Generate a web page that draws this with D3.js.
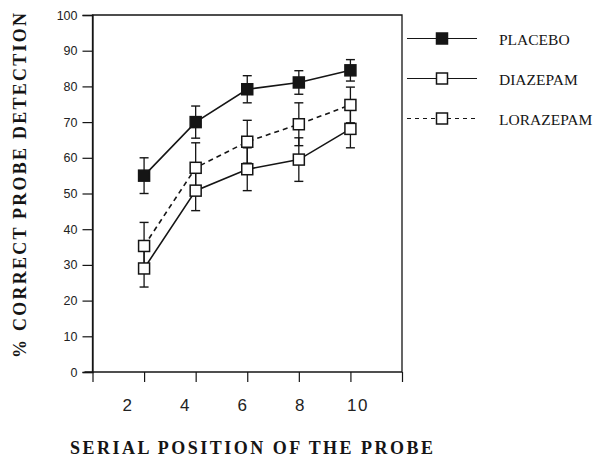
<!DOCTYPE html>
<html>
<head>
<meta charset="utf-8">
<script src="https://cdn.jsdelivr.net/npm/d3@7"></script>
<style>
  body { margin: 0; background: #fff; }
  svg { display: block; }
</style>
</head>
<body>
<svg id="chart" width="600" height="464"></svg>
<script>
// serial position of the probe
var positions = [2, 4, 6, 8, 10];
var xTickLabels = ["2", "4", "6", "8", "10"];
var yTicks = [0, 10, 20, 30, 40, 50, 60, 70, 80, 90, 100];

// % correct, with error bar half-widths
var placebo = [55, 70, 79.2, 81.1, 84.5];
var placeboErr = [5, 4.5, 3.8, 3.3, 3];
var diazepam = [29, 50.8, 56.8, 59.5, 68.1];
var diazepamErr = [5.2, 5.6, 6, 6.1, 5.3];
var lorazepam = [35.3, 57.2, 64.5, 69.4, 74.8];
var lorazepamErr = [6.6, 7, 6, 6, 5];

var seriesNames = ["PLACEBO", "DIAZEPAM", "LORAZEPAM"];

var series = [
    {name: seriesNames[0], values: placebo, err: placeboErr, filled: true, dash: null},
    {name: seriesNames[1], values: diazepam, err: diazepamErr, filled: false, dash: null},
    {name: seriesNames[2], values: lorazepam, err: lorazepamErr, filled: false, dash: "5,4"}
];

var svg = d3.select("#chart");
var ink = "#151515";

var plotLeft = 92.5, plotRight = 402, plotTop = 15, plotBottom = 372;

var x = d3.scaleLinear().domain([0, 12]).range([plotLeft, plotRight]);
var y = d3.scaleLinear().domain([0, 100]).range([plotBottom, plotTop]);
// the printed tick numbers sit a bit off their tick marks
var xLabel = d3.scaleLinear().domain([2, 10]).range([128, 358]);

// frame
svg.append("path")
    .attr("d", "M" + plotLeft + "," + plotBottom + "V" + plotTop + "H" + plotRight + "V" + plotBottom)
    .attr("fill", "none")
    .attr("stroke", ink)
    .attr("stroke-width", 1.3);

// y axis
var yAxis = d3.axisLeft(y).tickValues(yTicks).tickSize(10).tickPadding(5);
var gy = svg.append("g").attr("transform", "translate(" + plotLeft + ",0)").call(yAxis);
gy.select(".domain").attr("stroke", ink).attr("stroke-width", 1.3);
gy.selectAll(".tick line").attr("stroke", ink).attr("stroke-width", 1.2);
gy.selectAll(".tick text")
    .attr("fill", "#222")
    .style("font-family", "'Liberation Sans', Arial, sans-serif")
    .style("font-size", "12.5px");

// x axis, ticks 0..12, labels drawn separately
var xAxis = d3.axisBottom(x).tickValues(d3.range(0, 13, 2)).tickSize(10).tickFormat("");
var gx = svg.append("g").attr("transform", "translate(0," + plotBottom + ")").call(xAxis);
gx.select(".domain").remove();
gx.append("line")
    .attr("x1", plotLeft - 8).attr("x2", plotRight)
    .attr("stroke", ink).attr("stroke-width", 1.3);
gx.selectAll(".tick line").attr("stroke", ink).attr("stroke-width", 1.2);

svg.append("g").selectAll("text")
    .data(positions)
    .enter().append("text")
    .attr("x", function(d){ return xLabel(d); })
    .attr("y", 411)
    .attr("text-anchor", "middle")
    .attr("fill", "#222")
    .style("font-family", "'Liberation Sans', Arial, sans-serif")
    .style("font-size", "17px")
    .style("letter-spacing", "1.5px")
    .text(function(d, i){ return xTickLabels[i]; });

// axis titles
svg.append("text")
    .attr("x", 251.5)
    .attr("y", 454)
    .attr("text-anchor", "middle")
    .attr("textLength", 363)
    .attr("fill", ink)
    .style("font-family", "'Liberation Serif', 'Times New Roman', serif")
    .style("font-weight", 700)
    .style("font-size", "18px")
    .text("SERIAL POSITION OF THE PROBE");

svg.append("text")
    .attr("transform", "translate(25.5,185.5) rotate(-90)")
    .attr("text-anchor", "middle")
    .attr("textLength", 345)
    .attr("fill", ink)
    .style("font-family", "'Liberation Serif', 'Times New Roman', serif")
    .style("font-weight", 700)
    .style("font-size", "18px")
    .text("% CORRECT PROBE DETECTION");

// error bars
var capW = 4.5;
series.forEach(function(s){
    var g = svg.append("g");
    positions.forEach(function(p, i){
        var cx = x(p);
        var hi = y(s.values[i] + s.err[i]);
        var lo = y(s.values[i] - s.err[i]);
        g.append("line")
            .attr("x1", cx).attr("x2", cx).attr("y1", hi).attr("y2", lo)
            .attr("stroke", ink).attr("stroke-width", 1.3);
        [hi, lo].forEach(function(v){
            g.append("line")
                .attr("x1", cx - capW).attr("x2", cx + capW)
                .attr("y1", v).attr("y2", v)
                .attr("stroke", ink).attr("stroke-width", 1.4);
        });
    });
});

// lines
var line = d3.line()
    .x(function(d){ return x(d[0]); })
    .y(function(d){ return y(d[1]); });

series.forEach(function(s){
    svg.append("path")
        .datum(positions.map(function(p, i){ return [p, s.values[i]]; }))
        .attr("d", line)
        .attr("fill", "none")
        .attr("stroke", ink)
        .attr("stroke-width", 1.6)
        .attr("stroke-dasharray", s.dash);
});

// markers
var mk = 11;
series.forEach(function(s){
    svg.append("g").selectAll("rect")
        .data(s.values)
        .enter().append("rect")
        .attr("x", function(d, i){ return x(positions[i]) - mk / 2; })
        .attr("y", function(d){ return y(d) - mk / 2; })
        .attr("width", mk)
        .attr("height", mk)
        .attr("fill", s.filled ? ink : "#fff")
        .attr("stroke", ink)
        .attr("stroke-width", 1.5);
});

// legend
var legendY = d3.scaleLinear().domain([0, 2]).range([38.5, 118.5]);
var legend = svg.append("g");
series.forEach(function(s, i){
    var ly = legendY(i);
    legend.append("line")
        .attr("x1", 407).attr("x2", 477)
        .attr("y1", ly).attr("y2", ly)
        .attr("stroke", ink)
        .attr("stroke-width", 1.2)
        .attr("stroke-dasharray", s.dash ? "4,4" : null);
    legend.append("rect")
        .attr("x", 442 - mk / 2).attr("y", ly - mk / 2)
        .attr("width", mk).attr("height", mk)
        .attr("fill", s.filled ? ink : "#fff")
        .attr("stroke", ink)
        .attr("stroke-width", 1.5);
    legend.append("text")
        .attr("x", 499)
        .attr("y", ly + 6)
        .attr("fill", ink)
        .style("font-family", "'Liberation Serif', 'Times New Roman', serif")
        .style("font-size", "15.5px")
        .text(s.name);
});
</script>
</body>
</html>
